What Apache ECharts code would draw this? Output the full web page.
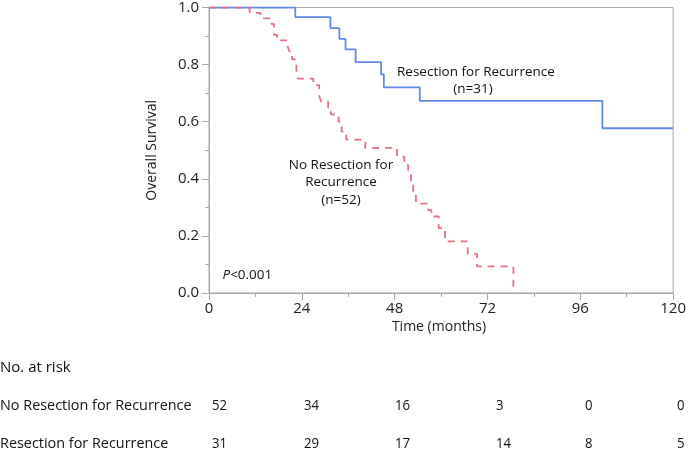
<!DOCTYPE html>
<html>
<head>
<meta charset="utf-8">
<script src="https://cdn.jsdelivr.net/npm/echarts@6/dist/echarts.min.js"></script>
<style>
html,body{margin:0;padding:0;background:#fff;}
#main{width:689px;height:450px;}
</style>
</head>
<body>
<div id="main"></div>
<script>
// ---- data ----
const resectTime = [0, 22.3, 31.4, 33.7, 35.3, 37.9, 44.5, 45.2, 54.5, 101.7, 120];
const resectSurv = [1.0, 0.966, 0.928, 0.890, 0.853, 0.809, 0.766, 0.720, 0.673, 0.577, 0.577];

const noResectTime = [0, 10.5, 13.3, 16.2, 16.8, 17.6, 20.3, 20.8, 21.5, 22.6, 23.0, 27.0, 28.5, 29.0, 30.8, 31.5, 33.5, 34.3, 35.5, 40.4, 48.6, 50.5, 51.5, 52.2, 52.8, 53.5, 56.7, 57.5, 59.4, 61.0, 66.9, 69.3, 78.7];
const noResectSurv = [1.0, 0.981, 0.962, 0.942, 0.904, 0.885, 0.865, 0.846, 0.818, 0.770, 0.751, 0.728, 0.690, 0.670, 0.648, 0.626, 0.600, 0.565, 0.537, 0.508, 0.478, 0.448, 0.418, 0.388, 0.350, 0.313, 0.290, 0.268, 0.227, 0.181, 0.137, 0.093, 0.0];

const xTicks = [0, 24, 48, 72, 96, 120];
const yTicks = [0.0, 0.2, 0.4, 0.6, 0.8, 1.0];

const riskLabels = ['No Resection for Recurrence', 'Resection for Recurrence'];
const riskNoResect = [52, 34, 16, 3, 0, 0];
const riskResect = [31, 29, 17, 14, 8, 5];

// ---- layout ----
const FONT = '"Open Sans", "Noto Sans", sans-serif';
const riskX = [212, 304, 395, 496, 585, 677];
const riskRowY = [406, 444];
const ANN = '13.5px ' + FONT;
const TBL = '15px ' + FONT;

const chart = echarts.init(document.getElementById('main'), null, {renderer: 'canvas'});

const graphics = [
  {type:'text', x: 397, y: 72, style:{text:'Resection for Recurrence', font: ANN, fill:'#111', verticalAlign:'middle'}},
  {type:'text', x: 473, y: 89, style:{text:'(n=31)', font: ANN, fill:'#111', align:'center', verticalAlign:'middle'}},
  {type:'text', x: 341, y: 165, style:{text:'No Resection for', font: ANN, fill:'#111', align:'center', verticalAlign:'middle'}},
  {type:'text', x: 341, y: 182.5, style:{text:'Recurrence', font: ANN, fill:'#111', align:'center', verticalAlign:'middle'}},
  {type:'text', x: 341, y: 200, style:{text:'(n=52)', font: ANN, fill:'#111', align:'center', verticalAlign:'middle'}},
  {type:'text', x: 222.5, y: 275, style:{text:'{i|P}<0.001', font: ANN, fill:'#111', verticalAlign:'middle',
      rich:{i:{fontStyle:'italic', fontSize:13.5, fontFamily:FONT, fill:'#111'}}}},
  {type:'text', x: 439, y: 327, style:{text:'Time (months)', font:'14px ' + FONT, fill:'#222', align:'center', verticalAlign:'middle'}},
  {type:'text', x: 0, y: 368, style:{text:'No. at risk', font: TBL, fill:'#111', verticalAlign:'middle'}}
];
riskLabels.forEach((lab, r) => {
  graphics.push({type:'text', x: 0, y: riskRowY[r], scaleX: 0.96, style:{text: lab, font: TBL, fill:'#111', verticalAlign:'middle'}});
  const vals = r === 0 ? riskNoResect : riskResect;
  vals.forEach((v, i) => {
    graphics.push({type:'text', x: riskX[i], y: riskRowY[r], scaleX: 0.88, style:{text: String(v), font: TBL, fill:'#111', verticalAlign:'middle'}});
  });
});

const axisGray = '#a6a6a6';
chart.setOption({
  animation: false,
  backgroundColor: '#fff',
  textStyle: {fontFamily: FONT},
  grid: {left: 209, right: 14, top: 5, bottom: 157, show: true, borderColor: axisGray, borderWidth: 1, backgroundColor: 'transparent'},
  xAxis: {
    type: 'value', min: xTicks[0], max: xTicks[xTicks.length-1], interval: 24,
    axisLine: {show: true, lineStyle: {color: axisGray, width: 1}},
    axisTick: {show: true, length: 7, lineStyle: {color: axisGray}},
    minorTick: {show: true, splitNumber: 2, length: 4, lineStyle: {color: axisGray}},
    splitLine: {show: false},
    axisLabel: {fontSize: 15, color: '#222', margin: 8, fontFamily: FONT}
  },
  yAxis: {
    type: 'value', min: yTicks[0], max: yTicks[yTicks.length-1], interval: 0.2,
    name: 'Overall Survival', nameLocation: 'middle', nameGap: 50, nameRotate: 90,
    nameTextStyle: {fontSize: 14, color: '#222', fontFamily: FONT},
    axisLine: {show: true, lineStyle: {color: axisGray, width: 1}},
    axisTick: {show: true, length: 7, lineStyle: {color: axisGray}},
    minorTick: {show: true, splitNumber: 2, length: 4, lineStyle: {color: axisGray}},
    splitLine: {show: false},
    axisLabel: {fontSize: 15, color: '#222', margin: 10, fontFamily: FONT, formatter: v => v.toFixed(1)}
  },
  series: [
    {
      type: 'line', step: 'end', showSymbol: false, silent: true,
      data: resectTime.map((t, i) => [t, resectSurv[i]]),
      lineStyle: {color: '#5f8ae6', width: 1.8}
    },
    {
      type: 'line', step: 'end', showSymbol: false, silent: true,
      data: noResectTime.map((t, i) => [t, noResectSurv[i]]),
      lineStyle: {color: '#e66f80', width: 1.8, type: [7, 6]}
    }
  ],
  graphic: graphics
});
</script>
</body>
</html>
